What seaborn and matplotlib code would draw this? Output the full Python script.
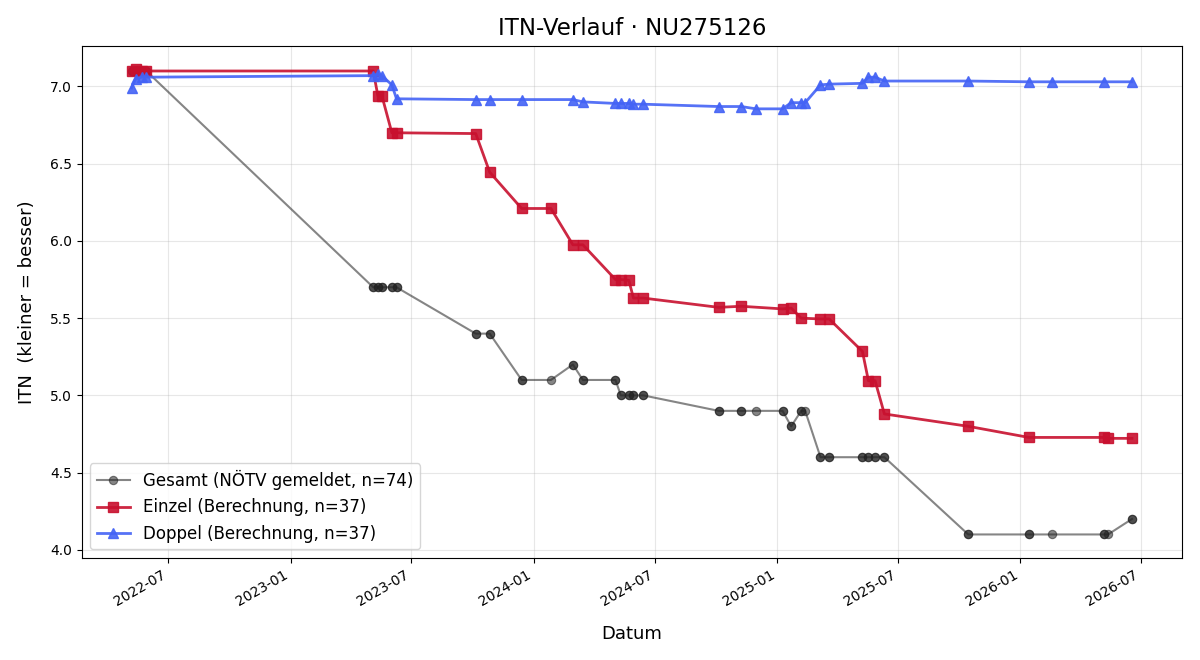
import numpy as np
import pandas as pd
import matplotlib
matplotlib.use("Agg")
import matplotlib.pyplot as plt
import matplotlib.dates as mdates
import seaborn as sns

nan = np.nan

dates = ["2022-05-07", "2022-05-13", "2022-05-22", "2022-05-29",
         "2023-05-05", "2023-05-12", "2023-05-18", "2023-06-02", "2023-06-09",
         "2023-10-06", "2023-10-27", "2023-12-14", "2024-01-27", "2024-02-29", "2024-03-15",
         "2024-05-03", "2024-05-11", "2024-05-23", "2024-05-30", "2024-06-14",
         "2024-10-05", "2024-11-08", "2024-11-30", "2025-01-09", "2025-01-22", "2025-02-06",
         "2025-02-12", "2025-03-07", "2025-03-20",
         "2025-05-09", "2025-05-18", "2025-05-28", "2025-06-11",
         "2025-10-15", "2026-01-14", "2026-02-18", "2026-05-07", "2026-05-13", "2026-06-18"]

einzel = [7.10, 7.11, 7.10, 7.10,
          7.10, 6.94, 6.94, 6.70, 6.70,
          6.695, 6.445, 6.21, 6.21, 5.975, 5.975,
          5.75, 5.75, 5.745, 5.63, 5.63,
          5.57, 5.577, nan, 5.56, 5.565, 5.50, nan, 5.495, 5.495,
          5.285, 5.095, 5.095, 4.88,
          4.80, 4.728, nan, 4.728, 4.722, 4.722]

doppel = [6.99, 7.05, 7.06, 7.06,
          7.07, 7.08, 7.07, 7.01, 6.92,
          6.915, 6.915, 6.915, nan, 6.915, 6.90,
          6.89, 6.89, 6.89, 6.885, 6.885,
          6.87, 6.87, 6.855, 6.855, 6.895, 6.895, 6.895, 7.01, 7.015,
          7.02, 7.06, 7.06, 7.035,
          7.035, 7.03, 7.03, 7.03, nan, 7.03]

gesamt = [7.10, 7.10, 7.10, 7.10,
          5.70, 5.70, 5.70, 5.70, 5.70,
          5.40, 5.40, 5.10, 5.10, 5.20, 5.10,
          5.10, 5.00, 5.00, 5.00, 5.00,
          4.90, 4.90, 4.90, 4.90, 4.80, 4.90, 4.90, 4.60, 4.60,
          4.60, 4.60, 4.60, 4.60,
          4.10, 4.10, 4.10, 4.10, 4.10, 4.20]

legend_labels = ["Gesamt (NÖTV gemeldet, n=74)",
                 "Einzel (Berechnung, n=37)",
                 "Doppel (Berechnung, n=37)"]

df = pd.DataFrame({"Datum": pd.to_datetime(dates), "Einzel": einzel,
                   "Doppel": doppel, "Gesamt": gesamt})

# Gesamt: one record per computed (Einzel / Doppel) entry
g_rows = []
for _, r in df.iterrows():
    if not np.isnan(r["Einzel"]):
        g_rows.append((r["Datum"], r["Gesamt"]))
    if not np.isnan(r["Doppel"]):
        g_rows.append((r["Datum"], r["Gesamt"]))
df_g = pd.DataFrame(g_rows, columns=["Datum", "ITN"])
df_e = df[["Datum", "Einzel"]].dropna().rename(columns={"Einzel": "ITN"})
df_d = df[["Datum", "Doppel"]].dropna().rename(columns={"Doppel": "ITN"})

fig, ax = plt.subplots(figsize=(12, 6.6), dpi=100)

c_g, c_e, c_d = "#222222", "#c8102e", "#4463f5"
sns.lineplot(data=df_g, x="Datum", y="ITN", ax=ax, estimator=None, sort=True,
             color=c_g, alpha=0.55, linewidth=1.5, marker="o", markersize=6,
             markeredgecolor=c_g, markeredgewidth=0.8, label=legend_labels[0])
sns.lineplot(data=df_e, x="Datum", y="ITN", ax=ax, estimator=None, sort=True,
             color=c_e, alpha=0.9, linewidth=2.0, marker="s", markersize=7,
             markeredgecolor=c_e, markeredgewidth=1.0, label=legend_labels[1])
sns.lineplot(data=df_d, x="Datum", y="ITN", ax=ax, estimator=None, sort=True,
             color=c_d, alpha=0.9, linewidth=2.0, marker="^", markersize=7,
             markeredgecolor=c_d, markeredgewidth=1.0, label=legend_labels[2])

ax.set_title("ITN-Verlauf · NU275126", fontsize=16.5, pad=8)
ax.set_xlabel("Datum", fontsize=13, labelpad=12)
ax.set_ylabel("ITN  (kleiner = besser)", fontsize=13, labelpad=10)
ax.grid(True, alpha=0.3)
ax.xaxis.set_major_locator(mdates.MonthLocator(bymonth=[1, 7]))
ax.xaxis.set_major_formatter(mdates.DateFormatter("%Y-%m"))
ax.tick_params(labelsize=10)
ax.legend(loc="lower left", fontsize=12)
fig.autofmt_xdate(rotation=30, ha="right")
fig.subplots_adjust(left=0.068, right=0.985, top=0.93, bottom=0.155)
fig.savefig("out.png", dpi=100)
